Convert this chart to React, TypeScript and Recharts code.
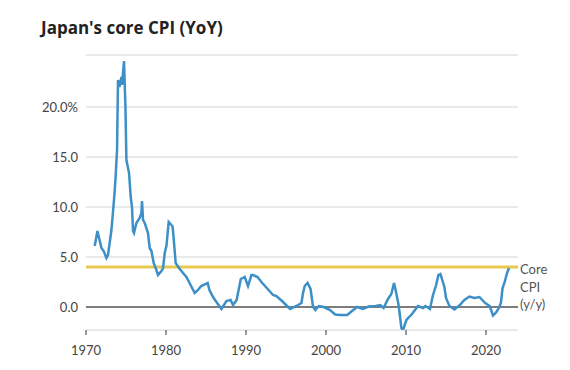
import React from 'react';
import { LineChart, Line, XAxis, YAxis, CartesianGrid, ReferenceLine } from 'recharts';

// Japan core CPI, year-on-year %
const years = [
  1971.09, 1971.43, 1971.93, 1972.21, 1972.55, 1972.75, 1973.18, 1973.5, 1973.68, 1973.88,
  1974.0, 1974.18, 1974.43, 1974.5, 1974.75, 1974.93, 1975.05, 1975.38, 1975.59, 1975.75,
  1975.88, 1976.0, 1976.3, 1976.71, 1976.93, 1977.0, 1977.13, 1977.34, 1977.75, 1977.96,
  1978.18, 1978.46, 1978.8, 1979.0, 1979.43, 1979.63, 1979.84, 1980.05, 1980.34, 1980.68,
  1980.8, 1980.88, 1981.21, 1981.63, 1982.13, 1982.55, 1982.75, 1983.59, 1984.0, 1984.4,
  1985.21, 1985.43, 1985.95, 1986.93, 1987.55, 1988.07, 1988.38, 1988.83, 1989.35, 1989.84,
  1990.25, 1990.68, 1990.88, 1991.44, 1992.03, 1992.6, 1993.38, 1993.8, 1994.5, 1995.52,
  1996.3, 1996.93, 1997.13, 1997.34, 1997.69, 1998.07, 1998.38, 1998.67, 1999.1, 1999.72,
  2000.5, 2001.15, 2001.71, 2002.65, 2003.25, 2003.9, 2004.6, 2005.35, 2006.2, 2006.8,
  2007.2, 2007.75, 2008.17, 2008.5, 2008.7, 2009.05, 2009.2, 2009.42, 2009.63, 2010.05,
  2010.75, 2011.5, 2012.13, 2012.43, 2013.0, 2013.34, 2013.75, 2014.05, 2014.3, 2014.38,
  2014.65, 2014.8, 2015.0, 2015.43, 2016.05, 2016.67, 2017.3, 2017.93, 2018.55, 2019.18,
  2019.9, 2020.46, 2020.88, 2021.21, 2021.55, 2021.86, 2022.07, 2022.34, 2022.63, 2022.88,
];

const cpi = [
  6.1, 7.6, 5.9, 5.6, 4.9, 5.2, 7.7, 10.7, 12.7, 15.7,
  22.7, 22.0, 23.0, 22.2, 24.6, 20.0, 14.7, 13.4, 11.0, 10.0,
  7.6, 7.4, 8.4, 8.9, 9.4, 10.6, 8.7, 8.4, 7.4, 5.9,
  5.6, 4.4, 3.7, 3.2, 3.6, 3.9, 5.4, 6.1, 8.5, 8.2,
  8.1, 7.6, 4.4, 3.9, 3.4, 3.0, 2.7, 1.4, 1.7, 2.1,
  2.4, 1.7, 0.9, -0.2, 0.6, 0.7, 0.2, 0.7, 2.8, 3.0,
  2.1, 3.2, 3.2, 3.0, 2.4, 1.9, 1.2, 1.1, 0.6, -0.2,
  0.1, 0.4, 1.4, 2.1, 2.4, 1.8, 0.0, -0.3, 0.1, 0.0,
  -0.3, -0.75, -0.8, -0.8, -0.4, 0.0, -0.2, 0.05, 0.1, 0.2,
  -0.1, 0.8, 1.3, 2.4, 1.7, 0.3, -0.6, -2.1, -2.3, -1.3,
  -0.7, 0.1, -0.1, 0.1, -0.2, 1.1, 2.15, 3.2, 3.3, 3.1,
  2.4, 2.0, 0.9, 0.1, -0.25, 0.15, 0.7, 1.05, 0.9, 1.0,
  0.4, 0.1, -0.85, -0.6, -0.2, 0.4, 1.9, 2.5, 3.4, 3.9,
];

const xTicks = [1970, 1980, 1990, 2000, 2010, 2020];
const yTicks = [0, 5, 10, 15, 20];
const coreLevel = 4;
const sideLabel = ['Core', 'CPI', '(y/y)'];

const data = years.map((year, i) => ({ year, cpi: cpi[i] }));

const font = 'Lato, "Open Sans", sans-serif';
const tickStyle = { fontSize: 13, fill: '#444', fontFamily: font };

export default function App() {
  return (
    <div style={{ position: 'absolute', left: 0, top: 0, width: 570, height: 370, background: '#fff', fontFamily: font }}>
      <div
        style={{
          position: 'absolute',
          left: 41,
          top: 16,
          fontSize: 17,
          fontWeight: 700,
          color: '#222',
          fontFamily: '"Open Sans", sans-serif',
        }}
      >
        Japan's core CPI (YoY)
      </div>
      <LineChart width={570} height={370} data={data} margin={{ top: 55, right: 52, left: 0, bottom: 10 }}>
        <CartesianGrid vertical={false} stroke="#d4d4d4" />
        <XAxis
          dataKey="year"
          type="number"
          domain={[1970, 2024]}
          ticks={xTicks}
          allowDataOverflow
          axisLine={false}
          tickLine={{ stroke: '#333' }}
          tickSize={5}
          tickMargin={11}
          height={30}
          tick={tickStyle}
        />
        <YAxis
          type="number"
          domain={[-2.3, 25.2]}
          ticks={yTicks}
          allowDataOverflow
          axisLine={false}
          tickLine={false}
          tickSize={0}
          tickMargin={8}
          width={86}
          tick={tickStyle}
          tickFormatter={(v: number) => (v === 20 ? '20.0%' : v.toFixed(1))}
        />
        <ReferenceLine y={0} stroke="#111" strokeWidth={1.2} />
        <ReferenceLine y={coreLevel} stroke="#e8c84e" strokeWidth={3} />
        <Line
          type="linear"
          dataKey="cpi"
          stroke="#3d8fc8"
          strokeWidth={2.5}
          dot={false}
          isAnimationActive={false}
        />
      </LineChart>
      <div style={{ position: 'absolute', left: 520, top: 261, fontSize: 13, lineHeight: '17.5px', color: '#555' }}>
        {sideLabel.map((s) => (
          <div key={s}>{s}</div>
        ))}
      </div>
    </div>
  );
}
